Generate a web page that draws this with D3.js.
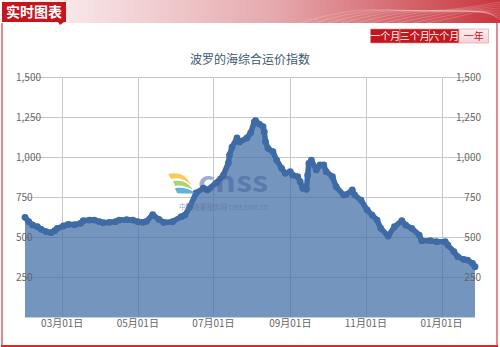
<!DOCTYPE html>
<html>
<head>
<meta charset="utf-8">
<script src="https://cdn.jsdelivr.net/npm/d3@7"></script>
<style>
  body { margin: 0; background: #fff; }
  svg { display: block; }
  text { font-family: "Noto Sans CJK SC", "Noto Sans", sans-serif; }
</style>
</head>
<body>
<svg id="chart"></svg>
<script>
// BDI values
let dates = [
  "2015-01-30","2015-02-02","2015-02-05","2015-02-09","2015-02-12","2015-02-16","2015-02-20","2015-02-23",
  "2015-02-25","2015-03-02","2015-03-06","2015-03-11","2015-03-16","2015-03-18","2015-03-23","2015-03-27",
  "2015-03-31","2015-04-03","2015-04-08","2015-04-13","2015-04-16","2015-04-22","2015-04-27","2015-05-01",
  "2015-05-05","2015-05-08","2015-05-13","2015-05-18","2015-05-22","2015-05-29","2015-06-05","2015-06-08",
  "2015-06-12","2015-06-17","2015-06-23","2015-06-26","2015-07-03","2015-07-09","2015-07-13","2015-07-14",
  "2015-07-16","2015-07-20","2015-07-22","2015-07-28","2015-07-31","2015-08-03","2015-08-04","2015-08-07",
  "2015-08-10","2015-08-11","2015-08-12","2015-08-14","2015-08-18","2015-08-21","2015-08-25","2015-08-28",
  "2015-09-01","2015-09-03","2015-09-07","2015-09-09","2015-09-11","2015-09-14","2015-09-15","2015-09-16",
  "2015-09-18","2015-09-22","2015-09-25","2015-09-28","2015-09-30","2015-10-05","2015-10-08","2015-10-14",
  "2015-10-16","2015-10-21","2015-10-23","2015-10-28","2015-11-02","2015-11-06","2015-11-10","2015-11-13",
  "2015-11-19","2015-11-24","2015-11-30","2015-12-03","2015-12-08","2015-12-14","2015-12-16","2015-12-23",
  "2015-12-28","2016-01-04","2016-01-06","2016-01-11","2016-01-14","2016-01-19","2016-01-22","2016-01-26",
  "2016-01-28"
];
let values = [
  623, 596, 575, 564, 548, 533, 527, 539,
  554, 569, 579, 577, 586, 602, 606, 606,
  596, 589, 592, 596, 606, 608, 606, 596,
  592, 598, 640, 610, 591, 596, 627, 637,
  689, 775, 806, 794, 837, 887, 962, 1012,
  1062, 1119, 1094, 1119, 1150, 1219, 1227, 1206,
  1190, 1158, 1096, 1054, 1033, 981, 929, 898,
  908, 887, 877, 846, 804, 798, 887, 960,
  981, 919, 950, 950, 908, 877, 814, 762,
  765, 794, 762, 731, 669, 637, 606, 554,
  506, 564, 602, 575, 554, 512, 477, 477,
  471, 471, 450, 408, 377, 360, 356, 335,
  314
];
let yTicks = [250, 500, 750, 1000, 1250, 1500];
let xTickDates = ["2015-03-01", "2015-05-01", "2015-07-01", "2015-09-01", "2015-11-01", "2016-01-01"];
let rangeButtons = ["一个月", "三个月", "六个月", "一年"];
let chartTitle = "波罗的海综合运价指数";
let panelTitle = "实时图表";

let W = 500, H = 347;
let plot = { left: 25, right: 475, top: 77, bottom: 317 };
let parse = d3.timeParse("%Y-%m-%d");
let data = dates.map((d, i) => ({ date: parse(d), value: values[i] }));

let x = d3.scaleTime()
  .domain(d3.extent(data, d => d.date))
  .range([plot.left, plot.right]);
let y = d3.scaleLinear()
  .domain([0, 1500])
  .range([plot.bottom, plot.top]);

let svg = d3.select("#chart")
  .attr("width", W)
  .attr("height", H);

let defs = svg.append("defs");
let hg = defs.append("linearGradient").attr("id", "hdr").attr("x1", 0).attr("x2", 1);
hg.append("stop").attr("offset", "0%").attr("stop-color", "#ffffff");
hg.append("stop").attr("offset", "14%").attr("stop-color", "#f8e6e8");
hg.append("stop").attr("offset", "55%").attr("stop-color", "#e5a9ad");
hg.append("stop").attr("offset", "100%").attr("stop-color", "#c9353d");
let bg = defs.append("linearGradient").attr("id", "btn").attr("x1", 0).attr("x2", 0).attr("y1", 0).attr("y2", 1);
bg.append("stop").attr("offset", "0%").attr("stop-color", "#fbeef0");
bg.append("stop").attr("offset", "100%").attr("stop-color", "#f1d3d6");

// panel frame
svg.append("rect")
  .attr("x", 2).attr("y", 22).attr("width", 495).attr("height", 324)
  .attr("fill", "none").attr("stroke", "#e6888e").attr("stroke-width", 2);
svg.append("line")
  .attr("x1", 1).attr("x2", 498).attr("y1", 346).attr("y2", 346)
  .attr("stroke", "#d42a33").attr("stroke-width", 2);

// header band
svg.append("rect")
  .attr("x", 0).attr("y", 0).attr("width", W).attr("height", 23)
  .attr("fill", "url(#hdr)");
let waves = svg.append("g").attr("fill", "none").attr("stroke", "#fff").attr("stroke-opacity", 0.28).attr("stroke-width", 0.7);
d3.range(10).forEach(i => {
  waves.append("path")
    .attr("d", d3.line().curve(d3.curveBasis)([[300 + i * 14, 23], [360 + i * 12, 6 + i], [430 + i * 6, 14 - i * 0.6], [500, 2 + i * 2]]));
});
svg.append("rect")
  .attr("x", 2).attr("y", 2).attr("width", 64).attr("height", 20)
  .attr("fill", "#c4161c");
svg.append("path")
  .attr("d", "M58,22 L64,22 L60,25 Z")
  .attr("fill", "#c4161c");
svg.append("text")
  .attr("x", 34).attr("y", 12.5)
  .attr("text-anchor", "middle").attr("dy", "0.35em")
  .attr("font-size", 14).attr("font-weight", "bold").attr("fill", "#fff")
  .text(panelTitle);

// range buttons
let bx = d3.scaleBand().domain(rangeButtons).range([370.5, 488.5]);
let btn = svg.append("g").selectAll("g").data(rangeButtons).enter().append("g");
btn.append("rect")
  .attr("x", d => bx(d)).attr("y", 29).attr("width", bx.bandwidth()).attr("height", 14)
  .attr("fill", (d, i) => i < 3 ? "#c4161c" : "url(#btn)")
  .attr("stroke", "#e58f95").attr("stroke-width", 0.6);
btn.append("text")
  .attr("x", d => bx(d) + bx.bandwidth() / 2).attr("y", 36)
  .attr("dy", "0.35em").attr("text-anchor", "middle")
  .attr("font-size", 10)
  .attr("fill", (d, i) => i < 3 ? "#fff" : "#c4161c")
  .text(d => d);

// title
svg.append("text")
  .attr("x", W / 2).attr("y", 60)
  .attr("dy", "0.35em").attr("text-anchor", "middle")
  .attr("font-size", 12).attr("fill", "#3e576f")
  .text(chartTitle);

// grid
let grid = svg.append("g").attr("stroke", "#c8c8c8").attr("stroke-width", 1);
grid.selectAll(".hg").data(yTicks).enter().append("line")
  .attr("x1", plot.left).attr("x2", plot.right)
  .attr("y1", d => Math.round(y(d)) + 0.5).attr("y2", d => Math.round(y(d)) + 0.5);
grid.selectAll(".vg").data(xTickDates.map(parse)).enter().append("line")
  .attr("x1", d => Math.round(x(d)) + 0.5).attr("x2", d => Math.round(x(d)) + 0.5)
  .attr("y1", plot.top).attr("y2", plot.bottom);

// area + line + markers
let area = d3.area()
  .x(d => x(d.date))
  .y0(y(0))
  .y1(d => y(d.value));
let line = d3.line()
  .x(d => x(d.date))
  .y(d => y(d.value));

svg.append("path")
  .datum(data)
  .attr("d", area)
  .attr("fill", "#4572A7")
  .attr("fill-opacity", 0.75);
svg.append("path")
  .datum(data)
  .attr("d", line)
  .attr("fill", "none")
  .attr("stroke", "#3e6ba6")
  .attr("stroke-width", 5.5)
  .attr("stroke-linejoin", "round")
  .attr("stroke-linecap", "round");
svg.selectAll(".dot")
  .data(data)
  .enter().append("circle")
  .attr("class", "dot")
  .attr("cx", d => x(d.date))
  .attr("cy", d => y(d.value))
  .attr("r", 3.4)
  .attr("fill", "#3e6ba6");

// x axis line
svg.append("line")
  .attr("x1", plot.left).attr("x2", plot.right)
  .attr("y1", plot.bottom + 0.5).attr("y2", plot.bottom + 0.5)
  .attr("stroke", "#c0d0e0");

// watermark
let wm = svg.append("g");
let logo = wm.append("g").attr("transform", "translate(168,171)").attr("opacity", 0.85);
logo.append("path").attr("d", "M0,3 Q17,-1 23,14 Q14,5 3,8 Z").attr("fill", "#f3c443");
logo.append("path").attr("d", "M5,10 Q19,8 25,19 Q15,13 7,15 Z").attr("fill", "#9ccd5c");
logo.append("path").attr("d", "M7,17 Q20,16 27,22 Q17,23 9,22 Z").attr("fill", "#45a3d6");
wm.append("text")
  .attr("x", 198).attr("y", 192)
  .attr("font-size", 28).attr("font-weight", "bold")
  .attr("font-family", "DejaVu Sans, sans-serif")
  .attr("textLength", 70).attr("lengthAdjust", "spacingAndGlyphs")
  .attr("fill", "#3d5f9e").attr("fill-opacity", 0.5)
  .text("cnss");
wm.append("text")
  .attr("x", 179).attr("y", 210)
  .attr("font-size", 7.5)
  .attr("textLength", 89).attr("lengthAdjust", "spacingAndGlyphs")
  .attr("fill", "#5d739b").attr("fill-opacity", 0.65)
  .text("中国海事服务网 cnss.com.cn");

// y labels, both sides
let fmt = d3.format(",");
let labels = svg.append("g").attr("font-size", 10).attr("fill", "#666");
labels.selectAll(".yl").data(yTicks).enter().append("text")
  .attr("x", 16).attr("y", d => y(d)).attr("dy", "0.35em")
  .text(d => fmt(d));
labels.selectAll(".yr").data(yTicks).enter().append("text")
  .attr("x", 481).attr("y", d => y(d)).attr("dy", "0.35em")
  .attr("text-anchor", "end")
  .text(d => fmt(d));

// x labels
let xfmt = d3.timeFormat("%m月%d日");
labels.selectAll(".xl").data(xTickDates.map(parse)).enter().append("text")
  .attr("x", d => x(d)).attr("y", 323).attr("dy", "0.35em")
  .attr("text-anchor", "middle")
  .text(d => xfmt(d));
</script>
</body>
</html>
